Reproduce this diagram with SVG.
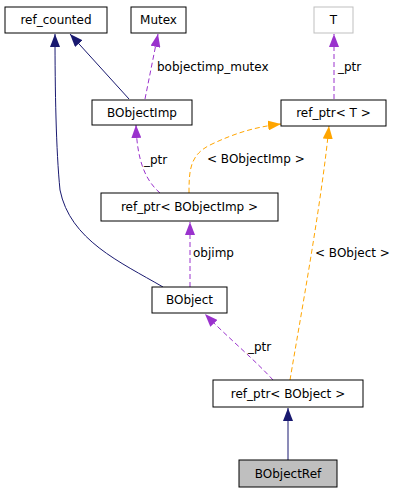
<svg xmlns="http://www.w3.org/2000/svg" width="405" height="493" viewBox="0 0 405 493">
<style>
.n{fill:#fff;stroke:#000;stroke-width:1}
.t{font-family:"DejaVu Sans",sans-serif;font-size:12px;fill:#000}
.c{text-anchor:middle}
.nav{fill:none;stroke:#191970;stroke-width:1}
.pur{fill:none;stroke:#9a32cd;stroke-width:1;stroke-dasharray:5,3}
.org{fill:none;stroke:#ffa500;stroke-width:1;stroke-dasharray:5,3}
</style>
<defs>
<marker id="an" markerUnits="userSpaceOnUse" markerWidth="14" markerHeight="10" refX="13" refY="5" orient="auto"><path d="M0,0 L13,5 L0,10 z" fill="#191970"/></marker>
<marker id="ap" markerUnits="userSpaceOnUse" markerWidth="14" markerHeight="10" refX="13" refY="5" orient="auto"><path d="M0,0 L13,5 L0,10 z" fill="#9a32cd"/></marker>
<marker id="ao" markerUnits="userSpaceOnUse" markerWidth="14" markerHeight="10" refX="13" refY="5" orient="auto"><path d="M0,0 L13,5 L0,10 z" fill="#ffa500"/></marker>
</defs>
<rect width="405" height="493" fill="#fff"/>
<g id="connectors">
<path class="nav" d="M129,99 L70,34" marker-end="url(#an)"/>
<path class="nav" d="M163,287 C120,262 70,240 60,190 C56,150 55,90 55,34" marker-end="url(#an)"/>
<path class="pur" d="M145,99 L158,34" marker-end="url(#ap)"/>
<path class="pur" d="M334,99 L334,34" marker-end="url(#ap)"/>
<path class="pur" d="M160,193 C145,180 137,160 136,125" marker-end="url(#ap)"/>
<path class="org" d="M189,193 C189,170 190,155 210,145 C235,133 255,127 281,124" marker-end="url(#ao)"/>
<path class="pur" d="M190,287 L190,222" marker-end="url(#ap)"/>
<path class="org" d="M290,380 C300,320 322,200 329,126" marker-end="url(#ao)"/>
<path class="pur" d="M273,380 C255,360 225,335 205,314" marker-end="url(#ap)"/>
<path class="nav" d="M288,460 L288,408" marker-end="url(#an)"/>
<text class="t" x="157" y="71">bobjectimp_mutex</text>
<text class="t" x="338" y="71">_ptr</text>
<text class="t" x="144" y="164">_ptr</text>
<text class="t" x="207" y="163">&lt; BObjectImp &gt;</text>
<text class="t" x="193" y="257">objimp</text>
<text class="t" x="315" y="257">&lt; BObject &gt;</text>
<text class="t" x="248" y="351">_ptr</text>
</g>
<g id="ref_counted"><rect class="n" x="5" y="7" width="102" height="26"/><text class="t c" x="56" y="24">ref_counted</text></g>
<g id="Mutex"><rect class="n" x="131" y="7" width="55" height="26"/><text class="t c" x="158.5" y="24">Mutex</text></g>
<g id="T"><rect x="314" y="7" width="39" height="26" fill="#fff" stroke="#bfbfbf"/><text class="t c" x="333.5" y="24">T</text></g>
<g id="BObjectImp"><rect class="n" x="92" y="100" width="100" height="25"/><text class="t c" x="142" y="117">BObjectImp</text></g>
<g id="ref_ptr_T"><rect class="n" x="281" y="100" width="105" height="26"/><text class="t c" x="333.5" y="117">ref_ptr&lt; T &gt;</text></g>
<g id="ref_ptr_BObjectImp"><rect class="n" x="101" y="193" width="177" height="28"/><text class="t c" x="189.5" y="211">ref_ptr&lt; BObjectImp &gt;</text></g>
<g id="BObject"><rect class="n" x="152" y="287" width="75" height="26"/><text class="t c" x="189.5" y="304">BObject</text></g>
<g id="ref_ptr_BObject"><rect class="n" x="213" y="380" width="150" height="27"/><text class="t c" x="288" y="398">ref_ptr&lt; BObject &gt;</text></g>
<g id="BObjectRef"><rect x="239" y="460" width="98" height="27" fill="#bfbfbf" stroke="#000"/><text class="t c" x="288" y="478">BObjectRef</text></g>
</svg>
